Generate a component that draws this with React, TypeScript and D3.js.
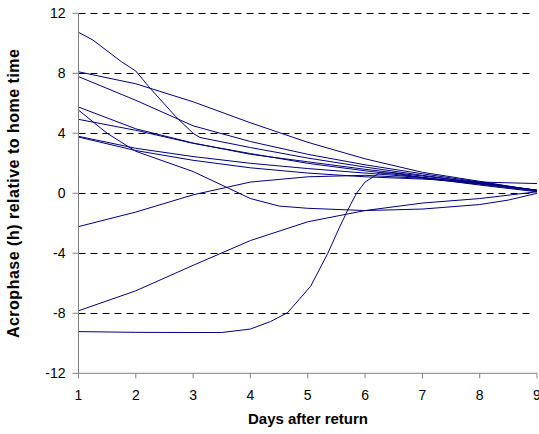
import React from "react";
import * as d3 from "d3";

const days = [1, 2, 3, 4, 5, 6, 7, 8, 9];
const xTicks = [1, 2, 3, 4, 5, 6, 7, 8, 9];
const yTicks = [-12, -8, -4, 0, 4, 8, 12];
const gridValues = [-8, -4, 0, 4, 8, 12];

const lineA_x = [1, 1.25, 1.75, 2, 2.25, 2.7, 3, 3.12, 4, 5, 6, 7, 8, 9];
const lineA_y = [10.73, 10.22, 8.77, 8.15, 7.0, 5.1, 4.0, 3.72, 3.05, 2.35, 1.75, 1.2, 0.7, 0.2];
const lineB_y = [8.1, 7.3, 6.1, 4.7, 3.4, 2.3, 1.4, 0.8, 0.15];
const lineC_y = [7.78, 6.2, 4.5, 3.45, 2.6, 1.9, 1.3, 0.75, 0.2];
const lineD_y = [5.75, 4.3, 3.35, 2.6, 2.1, 1.6, 1.15, 0.7, 0.2];
const lineE_x = [1, 1.5, 2, 3, 4, 4.5, 5, 6, 7, 8, 8.5, 9];
const lineE_y = [5.55, 4.0, 2.8, 1.45, -0.35, -0.85, -1.0, -1.15, -1.05, -0.75, -0.45, 0.0];
const lineF_y = [4.93, 4.2, 3.33, 2.65, 2.0, 1.5, 1.05, 0.65, 0.2];
const lineG_y = [3.8, 3.0, 2.45, 2.0, 1.65, 1.35, 1.05, 0.65, 0.2];
const lineH_y = [3.75, 2.85, 2.2, 1.7, 1.35, 1.1, 0.95, 0.75, 0.65];
const lineI_y = [-2.22, -1.25, -0.1, 0.75, 1.1, 1.2, 1.0, 0.6, 0.15];
const lineJ_y = [-7.83, -6.5, -4.8, -3.15, -1.9, -1.15, -0.65, -0.35, 0.1];
const lineK_x = [1, 2, 3, 3.5, 3.85, 4.0, 4.35, 4.65, 5.05, 5.35, 5.55, 5.7, 5.85, 6.0, 6.25, 6.5, 7, 8, 9];
const lineK_y = [-9.22, -9.27, -9.28, -9.28, -9.12, -9.05, -8.55, -7.95, -6.2, -4.0, -2.3, -1.1, 0.0, 0.75, 1.35, 1.35, 1.05, 0.55, 0.1];

const xTitle = "Days after return";
const yTitle = "Acrophase (h) relative to home time";

type Pt = [number, number];
const zip = (xs: number[], ys: number[]): Pt[] => xs.map((x, i) => [x, ys[i]]);

const series: Pt[][] = [
  zip(lineA_x, lineA_y),
  zip(days, lineB_y),
  zip(days, lineC_y),
  zip(days, lineD_y),
  zip(lineE_x, lineE_y),
  zip(days, lineF_y),
  zip(days, lineG_y),
  zip(days, lineH_y),
  zip(days, lineI_y),
  zip(days, lineJ_y),
  zip(lineK_x, lineK_y),
];

export default function App() {
  const W = 539;
  const H = 434;
  const left = 78.5;
  const right = 537;
  const top = 13.3;
  const bottom = 373.3;
  const x = d3.scaleLinear().domain([1, 9]).range([left, right]);
  const y = d3.scaleLinear().domain([-12, 12]).range([bottom, top]);
  const line = d3
    .line<Pt>()
    .x((d) => x(d[0]))
    .y((d) => y(d[1]));
  const font = "'Liberation Sans', Arial, sans-serif";
  return (
    <svg
      width={W}
      height={H}
      style={{ position: "absolute", left: 0, top: 0, background: "#fff" }}
      fontFamily={font}
    >
      <rect x={0} y={0} width={W} height={H} fill="#fff" />
      {gridValues.map((v) => (
        <line
          key={"g" + v}
          x1={left}
          x2={right - 4}
          y1={Math.round(y(v)) + 0.5}
          y2={Math.round(y(v)) + 0.5}
          stroke="#000"
          strokeWidth={1}
          strokeDasharray="7,5"
        />
      ))}
      {series.map((s, i) => (
        <path key={"s" + i} d={line(s) || ""} fill="none" stroke="#000080" strokeWidth={1} />
      ))}
      <line x1={left} x2={left} y1={top} y2={bottom} stroke="#808080" strokeWidth={1} />
      <line x1={left} x2={right} y1={bottom} y2={bottom} stroke="#808080" strokeWidth={1} />
      {yTicks.map((v) => (
        <g key={"yt" + v}>
          <line x1={left - 6} x2={left} y1={y(v)} y2={y(v)} stroke="#808080" />
          <text x={left - 13} y={y(v)} dy="0.35em" textAnchor="end" fontSize={14} fill="#000">
            {v}
          </text>
        </g>
      ))}
      {xTicks.map((v) => (
        <g key={"xt" + v}>
          <line x1={x(v)} x2={x(v)} y1={bottom} y2={bottom + 5} stroke="#808080" />
          <text x={x(v)} y={bottom + 27} textAnchor="middle" fontSize={14} fill="#000">
            {v}
          </text>
        </g>
      ))}
      <text x={308} y={424} textAnchor="middle" fontSize={15} fontWeight="bold" fill="#000">
        {xTitle}
      </text>
      <text
        transform={`translate(19, ${(top + bottom) / 2}) rotate(-90)`}
        textAnchor="middle"
        fontSize={16}
        fontWeight="bold"
        letterSpacing={0.5}
        fill="#000"
      >
        {yTitle}
      </text>
    </svg>
  );
}
